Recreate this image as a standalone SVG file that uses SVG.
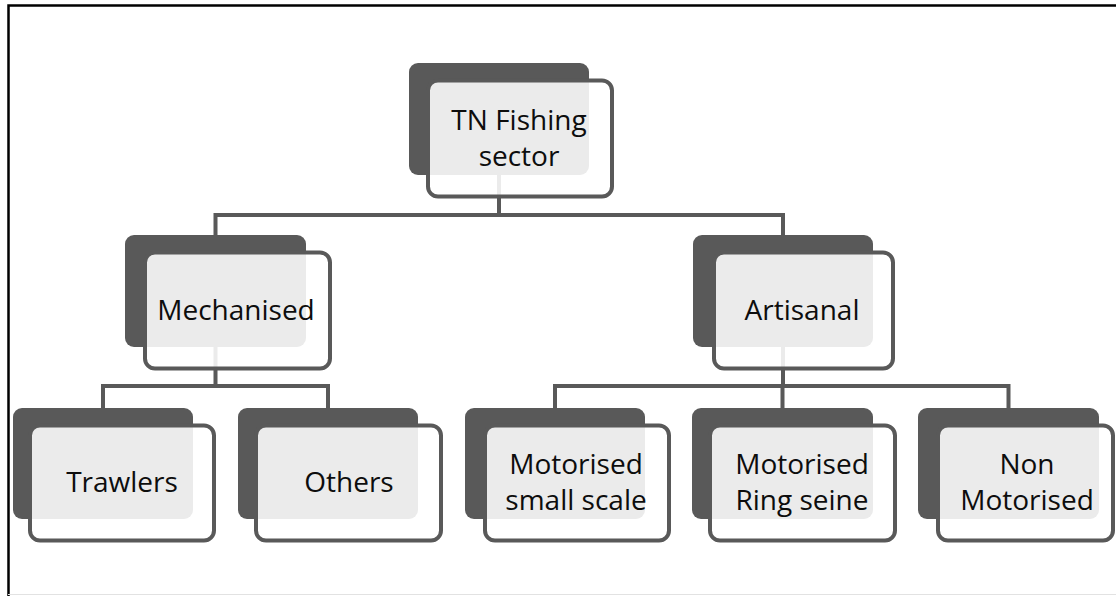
<svg xmlns="http://www.w3.org/2000/svg" width="1116" height="596" viewBox="0 0 1116 596">
<style>
.back{fill:#595959}
.front{fill:#ffffff;fill-opacity:0.88;stroke:#595959;stroke-width:4}
.lbl{font-family:"Open Sans","Liberation Sans",sans-serif;font-size:28px;fill:#0d0d0d;text-anchor:middle}
.conn{fill:none;stroke:#595959;stroke-width:4;stroke-linejoin:miter}
</style>
<rect x="0" y="0" width="1116" height="596" fill="#ffffff"/>
<path d="M8.5 596 V5.5 H1116" fill="none" stroke="#000" stroke-width="2.5"/>
<line x1="8" y1="594.5" x2="1116" y2="594.5" stroke="#e2e2e2" stroke-width="1"/>
<g id="connectors">
<path class="conn" d="M499 170 V215 M215.5 235 V215 H783 V235"/>
<path class="conn" d="M215.5 340 V386 M103 408 V386 H328 V408"/>
<path class="conn" d="M783 340 V386 M555 408 V386 H1008.5 V408 M782.5 386 V408"/>
</g>
<g id="node-top">
<rect class="back" x="409" y="63" width="180" height="112" rx="9"/>
<rect class="front" x="428" y="80.5" width="184" height="116" rx="10"/>
<text class="lbl" x="519" y="130">TN Fishing</text>
<text class="lbl" x="519" y="165.5">sector</text>
</g>
<g id="node-mechanised">
<rect class="back" x="125" y="235" width="181" height="112" rx="9"/>
<rect class="front" x="145" y="252.5" width="185" height="116" rx="10"/>
<text class="lbl" x="236" y="320">Mechanised</text>
</g>
<g id="node-artisanal">
<rect class="back" x="693" y="235" width="180" height="112" rx="9"/>
<rect class="front" x="714" y="252.5" width="179" height="116" rx="10"/>
<text class="lbl" x="802" y="320">Artisanal</text>
</g>
<g id="node-trawlers">
<rect class="back" x="13" y="408" width="180" height="111" rx="9"/>
<rect class="front" x="30" y="425.5" width="184" height="115" rx="10"/>
<text class="lbl" x="122" y="492">Trawlers</text>
</g>
<g id="node-others">
<rect class="back" x="238" y="408" width="180" height="111" rx="9"/>
<rect class="front" x="256" y="425.5" width="185" height="115" rx="10"/>
<text class="lbl" x="349" y="492">Others</text>
</g>
<g id="node-motorised-small">
<rect class="back" x="465" y="408" width="180" height="111" rx="9"/>
<rect class="front" x="485" y="425.5" width="184" height="115" rx="10"/>
<text class="lbl" x="576" y="474">Motorised</text>
<text class="lbl" x="576" y="509.5">small scale</text>
</g>
<g id="node-ring-seine">
<rect class="back" x="692" y="408" width="181" height="111" rx="9"/>
<rect class="front" x="710" y="425.5" width="185" height="115" rx="10"/>
<text class="lbl" x="802" y="474">Motorised</text>
<text class="lbl" x="802" y="509.5">Ring seine</text>
</g>
<g id="node-non-motorised">
<rect class="back" x="918" y="408" width="181" height="111" rx="9"/>
<rect class="front" x="938" y="425.5" width="175" height="115" rx="10"/>
<text class="lbl" x="1027" y="474">Non</text>
<text class="lbl" x="1027" y="509.5">Motorised</text>
</g>
</svg>
